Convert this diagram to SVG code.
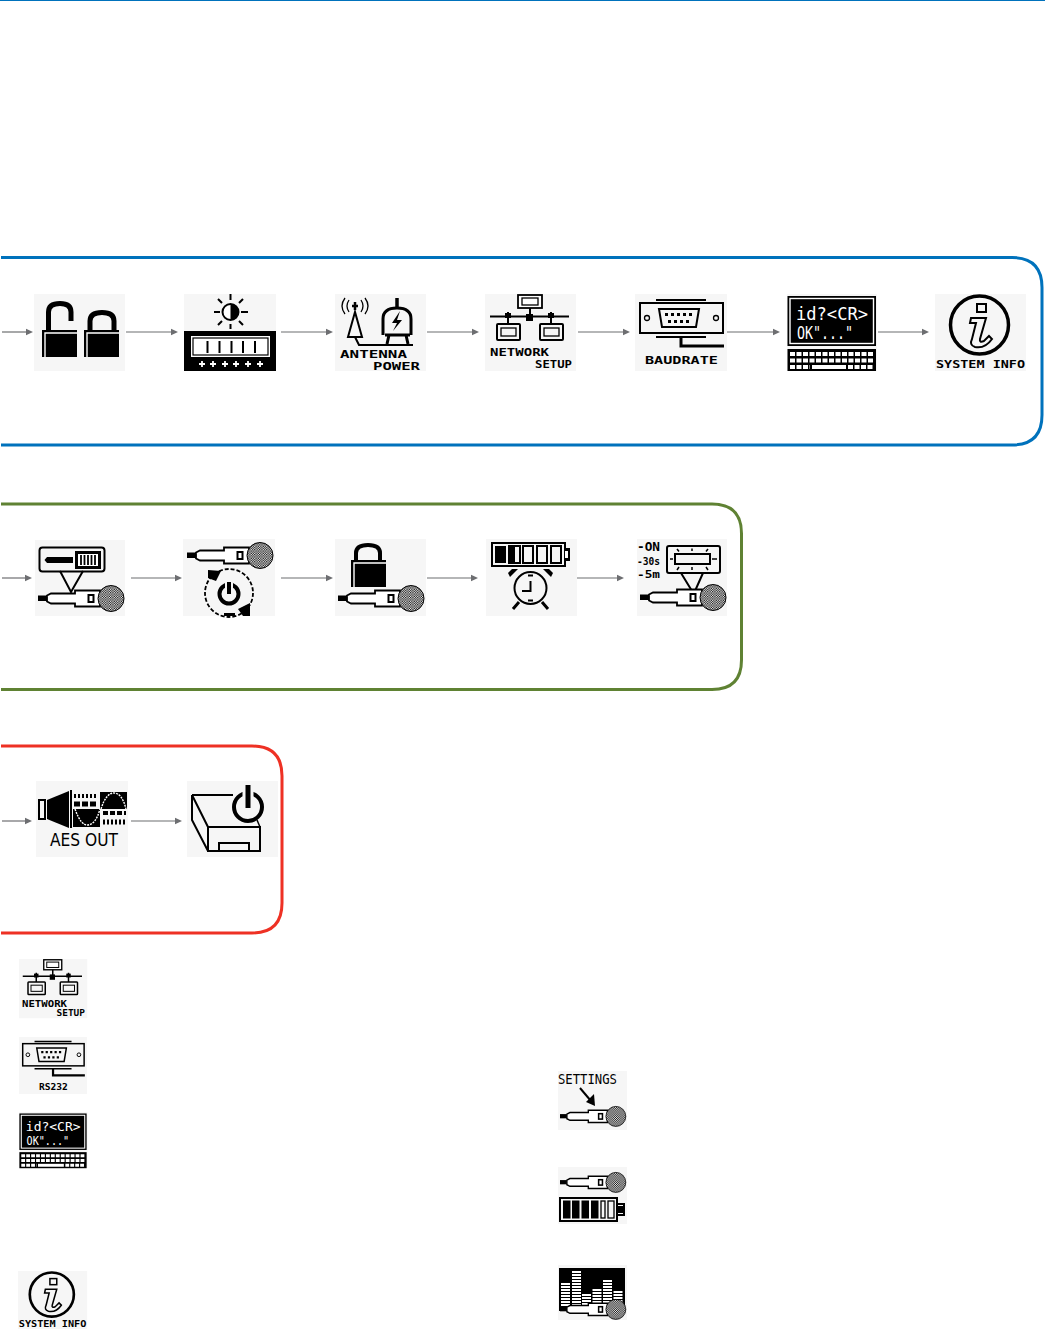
<svg xmlns="http://www.w3.org/2000/svg" width="1045" height="1329" viewBox="0 0 1045 1329">
<style>
.t{fill:#f6f6f6}
.k{fill:#000}
.w{fill:#fff}
.s{fill:none;stroke:#000;stroke-width:2}
.s1{fill:none;stroke:#000;stroke-width:1.3}
.sw{fill:#fff;stroke:#000;stroke-width:1.800}
.wl{fill:none;stroke:#fff;stroke-width:1.400}
.px{font-family:"DejaVu Sans Mono","Liberation Mono",monospace;font-weight:700;font-size:11px;fill:#000}
.scr{font-family:"DejaVu Sans Mono","Liberation Mono",monospace;font-size:17px;fill:#fff}
.panel{fill:none;stroke-width:3}
.c line{stroke:#6d6e71;stroke-width:1.2;marker-end:url(#ah)}
</style>
<defs>
<marker id="ah" markerUnits="userSpaceOnUse" markerWidth="8" markerHeight="8" refX="0.5" refY="4" orient="auto"><path d="M0 0.500L7.500 4L0 7.500Z" fill="#6d6e71"/></marker>
<pattern id="dith" width="2.400" height="2.400" patternUnits="userSpaceOnUse"><rect width="2.400" height="2.400" fill="#fff"/><rect width="1.200" height="1.200" fill="#000"/><rect x="1.200" y="1.200" width="1.200" height="1.200" fill="#000"/></pattern>
<g id="mic">
<rect class="k" x="0" y="10.500" width="9" height="5.500"/>
<path class="sw" d="M9 10.500L13 8.500H37V5.500H62V21.500H37V18.500H13L9 16.500Z"/>
<rect class="s" x="50.500" y="10" width="5" height="7"/>
<circle cx="73" cy="13.500" r="13" fill="url(#dith)" stroke="#000"/>
</g>
<g id="lockbody">
<rect class="k" width="35" height="27"/>
<path class="wl" d="M3 27V3H35"/>
</g>
<g id="net">
<rect class="sw" x="33" y="1" width="24" height="13"/>
<rect class="s1" x="37" y="4" width="16" height="7"/>
<path class="s" d="M45 14V22M5 22.500H84M23 18V30M66 18V30"/>
<rect class="k" x="41" y="20" width="7" height="7"/>
<rect class="k" x="20" y="19" width="6" height="5"/>
<rect class="k" x="63" y="19" width="6" height="5"/>
<rect class="s" x="12" y="30" width="23" height="16" rx="1"/>
<rect class="s1" x="16" y="34" width="15" height="8"/>
<rect class="s" x="55" y="30" width="23" height="16" rx="1"/>
<rect class="s1" x="59" y="34" width="15" height="8"/>
</g>
<g id="conn">
<rect class="s" x="5" y="9" width="83" height="30"/>
<path class="s" d="M21 6H71M21 43H71"/>
<circle class="s1" cx="12" cy="24" r="2.500"/>
<circle class="s1" cx="81" cy="24" r="2.500"/>
<path class="s" d="M24 15H64L61 33H27Z"/>
<path d="M30 20.500H58M33 27.500H55" stroke="#000" stroke-width="3" stroke-dasharray="3 3"/>
<path d="M46 43V52H89" fill="none" stroke="#000" stroke-width="3"/>
</g>
<g id="kb">
<rect class="k" x="0.500" y="2" width="88.500" height="50"/>
<rect class="wl" x="3" y="4.500" width="83.500" height="45"/>
<text class="scr" x="9" y="26" textLength="72" lengthAdjust="spacingAndGlyphs">id?&lt;CR&gt;</text>
<text class="scr" x="10" y="45" textLength="56" lengthAdjust="spacingAndGlyphs">OK"..."</text>
<rect class="k" x="0.500" y="55" width="88.500" height="22"/>
<path d="M3 60H87M3 66.500H87" stroke="#fff" stroke-width="4" stroke-dasharray="5 1.500"/>
<path d="M3 73H23M61 73H87" stroke="#fff" stroke-width="4" stroke-dasharray="5 1.500"/>
<rect class="w" x="25" y="71" width="34" height="4"/>
</g>
<g id="info">
<ellipse cx="44.500" cy="31" rx="29" ry="29" fill="none" stroke="#000" stroke-width="3.500"/>
<rect class="s" x="42" y="10" width="9" height="8"/>
<path class="s" d="M36 24H51L45 45Q44 49 49 47L54 42L57 45Q50 55 40 53Q34 51 37 45L41 29H35Z"/>
</g>
</defs>

<rect width="1045" height="1329" fill="#fff"/>
<rect x="0" y="0" width="1045" height="1" fill="#0072bc"/>

<g id="panels">
<path class="panel" stroke="#0072bc" d="M1 257.500H1012Q1042 257.500 1042 287.500V415Q1042 445 1012 445H1"/>
<path class="panel" stroke="#5f8233" d="M1 504H712Q741.500 504 741.500 533.500V660Q741.500 689.500 712 689.500H1"/>
<path class="panel" stroke="#ee3124" d="M1 746H252Q282 746 282 776V903Q282 933 252 933H1"/>
</g>

<g id="connectors" class="c">
<line x1="2" y1="332" x2="26" y2="332"/><line x1="126" y1="332" x2="171" y2="332"/><line x1="281" y1="332" x2="326" y2="332"/><line x1="427" y1="332" x2="472" y2="332"/><line x1="578" y1="332" x2="623" y2="332"/><line x1="727" y1="332" x2="773" y2="332"/><line x1="878" y1="332" x2="922" y2="332"/>
<line x1="2" y1="578" x2="25" y2="578"/><line x1="131" y1="578" x2="175" y2="578"/><line x1="281" y1="578" x2="326" y2="578"/><line x1="427" y1="578" x2="471" y2="578"/><line x1="572" y1="578" x2="617" y2="578"/>
<line x1="2" y1="821" x2="25" y2="821"/><line x1="131" y1="821" x2="175" y2="821"/>
</g>

<g id="n-lock" transform="translate(34 294)">
<rect class="t" width="91" height="77"/>
<path d="M14.500 36V18Q14.500 9.500 26 9.500Q37 9.500 37 18V27" fill="none" stroke="#000" stroke-width="5"/>
<path d="M56 36V27Q56 18.500 68 18.500Q80 18.500 80 27V36" fill="none" stroke="#000" stroke-width="5"/>
<use href="#lockbody" x="8" y="36"/><use href="#lockbody" x="50" y="36"/>
</g>

<g id="n-bright" transform="translate(184 294)">
<rect class="t" width="92" height="77"/>
<circle cx="46.500" cy="18" r="8" fill="#fff" stroke="#000" stroke-width="2"/>
<path class="k" d="M46.500 10A8 8 0 0 1 46.500 26Z"/>
<path d="M46.500 0V6M46.500 30V35M30 18H36M57 18H64M34 5L38 9M59 5L55 9M34 31L38 27M59 31L55 27" stroke="#000" stroke-width="2"/>
<rect class="k" y="37" width="92" height="40"/>
<rect x="7" y="42" width="79" height="21" fill="#fff"/>
<rect x="9" y="44" width="75" height="17" fill="#fff" stroke="#000" stroke-width="1.200"/>
<path d="M23.500 47V59M35.500 47V59M47.500 47V59M59 47V59M71 47V59" stroke="#000" stroke-width="2"/>
<path d="M15 70H21M18 67V73M26 70H32M29 67V73M38 70H44M41 67V73M49 70H55M52 67V73M61 70H67M64 67V73M73 70H79M76 67V73" stroke="#fff" stroke-width="1.800"/>
</g>

<g id="n-antenna" transform="translate(335 294)">
<rect class="t" width="91" height="77"/>
<path d="M20 8V16M17 12H23" stroke="#000" stroke-width="2.500"/>
<path class="s1" d="M14 6Q10 12 14 18M10 4Q4 12 10 20M26 6Q30 12 26 18M30 4Q36 12 30 20"/>
<path class="s" d="M20 18L13 43H27Z"/>
<path class="s" d="M20 43L24 51H78"/>
<path d="M62 4V14" stroke="#000" stroke-width="3.500"/>
<path d="M48 41V25Q48 14 62 14Q76 14 76 25V41" fill="none" stroke="#000" stroke-width="3"/>
<path class="k" d="M65 17L57 29H62L58 37L67 26H62Z"/>
<path d="M50 41H75M54 41L52 50M71 41L73 50" fill="none" stroke="#000" stroke-width="3"/>
<text class="px" x="5" y="64" textLength="67" lengthAdjust="spacingAndGlyphs">ANTENNA</text>
<text class="px" x="38" y="76" textLength="47" lengthAdjust="spacingAndGlyphs">POWER</text>
</g>

<g id="n-network" transform="translate(485 294)">
<rect class="t" width="91" height="77"/>
<use href="#net"/>
<text class="px" x="5" y="62" textLength="59" lengthAdjust="spacingAndGlyphs">NETWORK</text>
<text class="px" x="50" y="74" textLength="37" lengthAdjust="spacingAndGlyphs">SETUP</text>
</g>

<g id="n-baud" transform="translate(635 294)">
<rect class="t" width="92" height="77"/>
<use href="#conn"/>
<text class="px" x="10" y="70" textLength="73" lengthAdjust="spacingAndGlyphs">BAUDRATE</text>
</g>

<g id="n-terminal" transform="translate(787 294)">
<rect class="t" width="90" height="77"/>
<use href="#kb"/>
</g>

<g id="n-info" transform="translate(935 294)">
<rect class="t" width="91" height="77"/>
<use href="#info"/>
<text class="px" x="1" y="74" textLength="89" lengthAdjust="spacingAndGlyphs">SYSTEM INFO</text>
</g>

<g id="n-micbatt" transform="translate(35 540)">
<rect class="t" width="90" height="76"/>
<rect class="s" x="4.500" y="7.500" width="65" height="24" rx="3"/>
<path class="k" d="M12 17H38V23H12L9.500 20Z"/>
<rect class="k" x="40" y="11" width="26" height="18"/>
<rect class="w" x="43" y="14" width="20" height="12"/>
<path d="M46 15V25M49.500 15V25M53 15V25M56.500 15V25M60 15V25" stroke="#000" stroke-width="1.800"/>
<path class="s" d="M25 31L36 52L48 31"/>
<use href="#mic" x="3" y="45"/>
</g>

<g id="n-micpower" transform="translate(183 539)">
<rect class="t" width="92" height="77"/>
<use href="#mic" x="4" y="3"/>
<circle cx="46" cy="54" r="24" fill="none" stroke="#000" stroke-width="1.800" stroke-dasharray="4 2"/>
<circle cx="46" cy="55" r="9.500" fill="none" stroke="#000" stroke-width="4"/>
<path d="M46 42V55" stroke="#f6f6f6" stroke-width="8"/>
<path d="M46 43V55" stroke="#000" stroke-width="4"/>
<path class="k" d="M25 39L25 31L38 32L33 42Z"/>
<path class="k" d="M67 77L67 64L55 70L60 77Z"/>
<path class="k" d="M41 74H52V77H41Z"/>
</g>

<g id="n-miclock" transform="translate(335 539)">
<rect class="t" width="91" height="77"/>
<path d="M21 24V14Q21 6 33 6Q45 6 45 14V24" fill="none" stroke="#000" stroke-width="4"/>
<use href="#lockbody" x="16" y="21"/>
<use href="#mic" x="3" y="46"/>
</g>

<g id="n-battclock" transform="translate(486 539)">
<rect class="t" width="91" height="77"/>
<rect class="s" x="6" y="4" width="73" height="23" stroke-width="2.500"/>
<rect class="k" x="79" y="9" width="5" height="13"/>
<rect class="w" x="79" y="12" width="3" height="7"/>
<rect class="k" x="9" y="7" width="11" height="17"/>
<rect class="s" x="23" y="7" width="11" height="17"/>
<rect class="k" x="23" y="7" width="6" height="17"/>
<rect class="s" x="37" y="7" width="10" height="17"/>
<rect class="s" x="51" y="7" width="10" height="17"/>
<rect class="s" x="65" y="7" width="10" height="17"/>
<circle cx="44.500" cy="49" r="16" fill="none" stroke="#000" stroke-width="2"/>
<path class="k" d="M24 38L32 30L26 30L22 34ZM65 38L57 30L63 30L67 34Z"/>
<path d="M44.500 42V52H36" fill="none" stroke="#000" stroke-width="2"/>
<path d="M33 63L27 70M56 63L62 70" stroke="#000" stroke-width="3"/>
<path d="M42 36.500H47M42 61.500H47" stroke="#000" stroke-width="2"/>
</g>

<g id="n-micdisplay" transform="translate(637 539)">
<rect class="t" width="90" height="77"/>
<text class="px" x="0" y="12" textLength="23" lengthAdjust="spacingAndGlyphs" style="font-size:13px">-ON</text>
<text class="px" x="0" y="26" textLength="23" lengthAdjust="spacingAndGlyphs">-30s</text>
<text class="px" x="0" y="39" textLength="23" lengthAdjust="spacingAndGlyphs">-5m</text>
<rect class="s" x="30" y="7" width="53" height="27" rx="2"/>
<rect class="s" x="38" y="15" width="35" height="10"/>
<path d="M40 10L42 12.500M55 9.500V12M71 10L69 12.500M40 31L42 28M55 31V28M71 31L69 28M33 20H36M75 20H80" stroke="#000" stroke-width="1.500"/>
<path class="s" d="M44 34L55 52M66 34L58 52"/>
<use href="#mic" x="3" y="45"/>
</g>

<g id="n-aes" transform="translate(36 781)">
<rect class="t" width="92" height="76"/>
<rect class="s" x="3" y="19" width="6" height="19"/>
<path class="k" d="M11 19L33 10V47L11 38Z"/>
<path d="M35 9V47" stroke="#000" stroke-width="2"/>
<path d="M38 15H60" stroke="#000" stroke-width="4" stroke-dasharray="2 2"/>
<path d="M38 23H60" stroke="#000" stroke-width="5" stroke-dasharray="6 2"/>
<rect class="k" x="37" y="28" width="27" height="18"/>
<path class="wl" d="M39 28Q45 45 52 44Q60 43 64 28" stroke-dasharray="2 1"/>
<rect class="k" x="64" y="11" width="27" height="17"/>
<path class="wl" d="M65 28Q70 12 78 12Q86 12 90 28" stroke-dasharray="2 1"/>
<path d="M67 32H90" stroke="#000" stroke-width="4" stroke-dasharray="5 2"/>
<path d="M67 41H90" stroke="#000" stroke-width="5" stroke-dasharray="2 2"/>
<text x="14" y="65" font-family="'DejaVu Sans',sans-serif" font-size="17" textLength="68" lengthAdjust="spacingAndGlyphs" fill="#000">AES OUT</text>
</g>

<g id="n-drive" transform="translate(187 781)">
<rect class="t" width="91" height="76"/>
<path class="s" d="M5 14H46M5 14V39L21 70M5 14L21 46"/>
<rect class="s" x="21" y="46" width="52" height="24"/>
<path d="M73 46L70 39" stroke="#000" stroke-width="1.500"/>
<rect class="s" x="32" y="62" width="30" height="8"/>
<circle cx="61" cy="26" r="14" fill="#f6f6f6" stroke="#000" stroke-width="4"/>
<path d="M61 4V27" stroke="#f6f6f6" stroke-width="11"/>
<path d="M61 4V27" stroke="#000" stroke-width="5"/>
</g>

<g id="s-network" transform="translate(19 959) scale(.75 .77)">
<rect class="t" width="91" height="77"/>
<use href="#net"/>
<text class="px" x="4" y="62" textLength="60" lengthAdjust="spacingAndGlyphs">NETWORK</text>
<text class="px" x="50" y="74" textLength="38" lengthAdjust="spacingAndGlyphs">SETUP</text>
</g>

<g id="s-rs232" transform="translate(19 1037) scale(.74 .74)">
<rect class="t" width="92" height="77"/>
<use href="#conn"/>
<text class="px" x="27" y="71" textLength="39" lengthAdjust="spacingAndGlyphs">RS232</text>
</g>

<g id="s-terminal" transform="translate(19 1112) scale(.76 .73)">
<rect class="t" width="90" height="77"/>
<use href="#kb"/>
</g>

<g id="s-info" transform="translate(18 1271) scale(.76 .76)">
<rect class="t" width="91" height="77"/>
<use href="#info"/>
<text class="px" x="1" y="74" textLength="89" lengthAdjust="spacingAndGlyphs">SYSTEM INFO</text>
</g>

<g id="s-settings" transform="translate(558 1071)">
<rect class="t" width="69" height="59"/>
<text class="px" x="0" y="13" textLength="59" lengthAdjust="spacingAndGlyphs" style="font-weight:400;font-size:14px">SETTINGS</text>
<path d="M22 17L33 30" stroke="#000" stroke-width="2"/>
<path class="k" d="M37 35L28 31L36 23Z"/>
<use href="#mic" transform="translate(2 35) scale(.765 .77)"/>
</g>

<g id="s-micbatt" transform="translate(558 1167)">
<rect class="t" width="69" height="57"/>
<use href="#mic" transform="translate(2 5) scale(.765 .77)"/>
<rect class="s" x="2" y="31" width="57" height="23"/>
<rect class="k" x="5" y="33.500" width="7.500" height="18"/>
<rect class="k" x="14" y="33.500" width="7.500" height="18"/>
<rect class="k" x="23.500" y="33.500" width="7.500" height="18"/>
<rect class="k" x="33" y="33.500" width="7.500" height="18"/>
<rect class="s1" x="43" y="34" width="4" height="17"/>
<rect class="s1" x="50" y="34" width="6" height="17"/>
<rect class="s" x="59" y="37" width="7" height="11"/>
<rect class="k" x="60" y="39" width="5" height="7"/>
</g>

<g id="s-equalizer" transform="translate(558 1265)">
<rect class="t" width="69" height="55"/>
<rect class="k" x="1" y="3" width="66" height="43"/>
<g stroke="#fff" stroke-width="9" stroke-dasharray="2 1" fill="none">
<path d="M7.500 18V42"/><path d="M18.500 6V42"/><path d="M28.500 29V42"/><path d="M39 24V42"/><path d="M49.500 15V42"/><path d="M60 26V42"/>
</g>
<use href="#mic" transform="translate(2 34) scale(.765 .77)"/>
</g>
</svg>
